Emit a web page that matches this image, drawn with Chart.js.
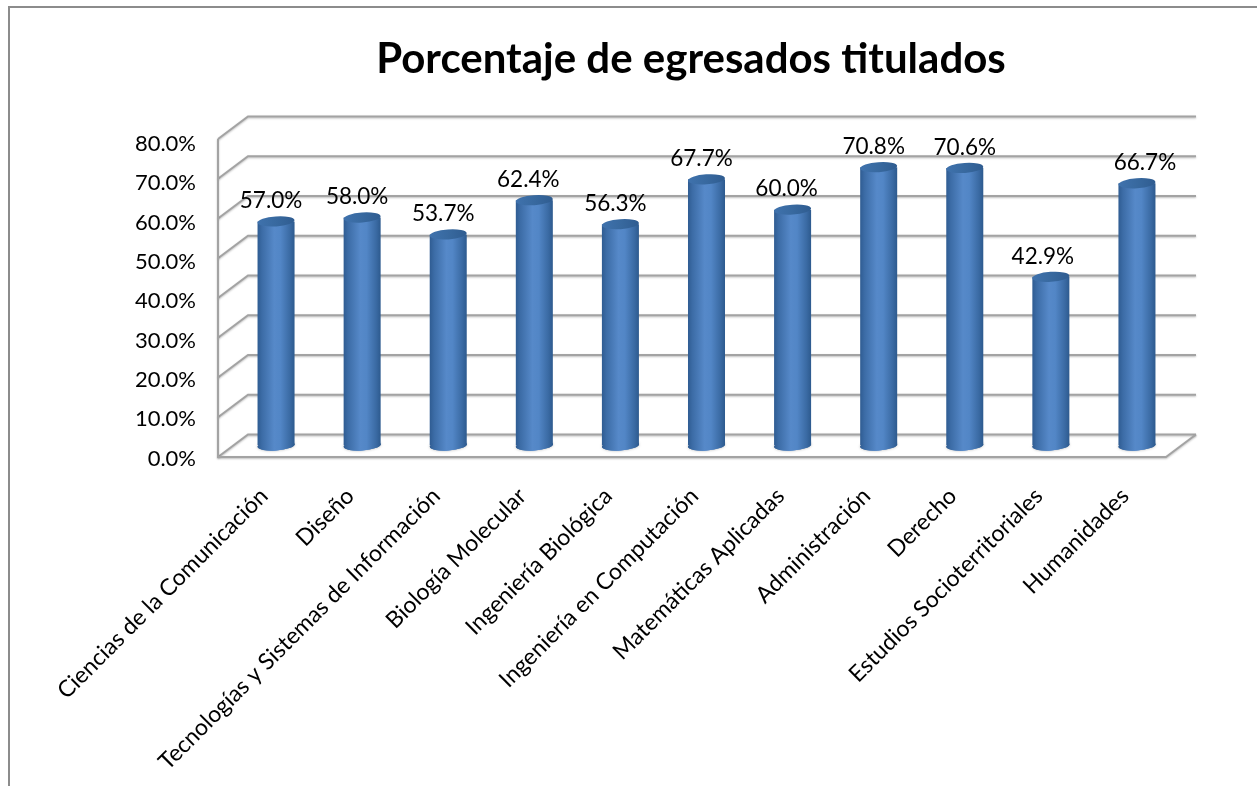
<!DOCTYPE html>
<html><head><meta charset="utf-8">
<style>html,body{margin:0;padding:0;background:#fff}#w{width:1257px;height:786px;position:relative}</style>
<script src="https://cdn.jsdelivr.net/npm/chart.js@4"></script></head>
<body><div id="w"><canvas id="c" width="1257" height="786"></canvas></div>
<script>
const chartTitle = 'Porcentaje de egresados titulados';
const categories = ['Ciencias de la Comunicación','Diseño','Tecnologías y Sistemas de Información','Biología Molecular','Ingeniería Biológica','Ingeniería en Computación','Matemáticas Aplicadas','Administración','Derecho','Estudios Socioterritoriales','Humanidades'];
const egresadosTitulados = [57.0,58.0,53.7,62.4,56.3,67.7,60.0,70.8,70.6,42.9,66.7];
const labelNudgeX = [-5,-5,-5,-6,-5,-5,-6,-5,0,-8,8];
const FONT = 'Lato, "Noto Sans", sans-serif';
const fmt = v => v.toFixed(1) + '%';

function sideGradient(ctx, left, right, stops){
  const g = ctx.createLinearGradient(left,0,right,0);
  stops.forEach(s=>g.addColorStop(s[0],s[1]));
  return g;
}
const bodyStops = [[0,'#2f5c92'],[0.12,'#3c6ca6'],[0.45,'#5689c9'],[0.62,'#5286c6'],[0.88,'#3a6aa3'],[1,'#2d5a8e']];
const capStops = [[0,'#3f72ad'],[0.5,'#38699f'],[1,'#2f5c90']];

const depthPlugin = {
  id:'depth',
  afterLayout(chart){
    const t = chart.titleBlock;
    if(t){ t.left = 125; t.right = 1257; }
  },
  beforeDraw(chart){
    const c = chart.ctx; c.save();
    c.fillStyle='#fff'; c.fillRect(0,0,chart.width,chart.height);
    c.strokeStyle='#8c8c8c'; c.lineWidth=2;
    c.beginPath(); c.moveTo(9,786); c.lineTo(9,7); c.lineTo(1257,7); c.stroke();
    c.restore();
  },
  beforeDatasetsDraw(chart){
    const c = chart.ctx, y = chart.scales.y;
    const y0 = y.getPixelForValue(0), yT = y.getPixelForValue(80);
    const frontL=218, backL=248, backR=1196, frontR=1166;
    const front = p => 457 - (y0-p)/(y0-yT)*318;
    const back = p => 434.5 - (y0-p)/(y0-yT)*318;
    c.save();
    c.strokeStyle='#a3a3a3'; c.lineWidth=2;
    c.shadowColor='rgba(0,0,0,0.25)'; c.shadowBlur=2; c.shadowOffsetY=1;
    y.ticks.forEach(t=>{
      const p = y.getPixelForValue(t.value);
      c.beginPath(); c.moveTo(frontL,front(p)); c.lineTo(backL,back(p)); c.lineTo(backR,back(p)); c.stroke();
    });
    c.beginPath();
    c.moveTo(frontL,front(yT)); c.lineTo(frontL,457); c.lineTo(frontR,457); c.lineTo(backR,434.5);
    c.stroke();
    c.restore();
    chart.getDatasetMeta(0).data.forEach(b=>{
      const w = b.width/2;
      c.save();
      c.shadowColor='rgba(0,0,0,0.3)'; c.shadowBlur=3;
      c.fillStyle=sideGradient(c,b.x-w,b.x+w,bodyStops);
      c.beginPath(); c.ellipse(b.x,b.base,w,5,-0.07,0,Math.PI*2); c.fill();
      c.restore();
    });
  },
  afterDatasetsDraw(chart){
    const c = chart.ctx;
    chart.getDatasetMeta(0).data.forEach(b=>{
      const w = b.width/2;
      c.save();
      c.fillStyle=sideGradient(c,b.x-w,b.x+w,bodyStops);
      c.beginPath(); c.ellipse(b.x,b.base,w,5,-0.07,0,Math.PI*2); c.fill();
      c.fillStyle=sideGradient(c,b.x-w,b.x+w,capStops);
      c.beginPath(); c.ellipse(b.x,b.y,w,5,-0.07,0,Math.PI*2); c.fill();
      c.restore();
    });
  },
  afterDraw(chart){
    const c = chart.ctx;
    c.save();
    c.fillStyle='#000'; c.font='22.5px '+FONT; c.textAlign='center'; c.textBaseline='middle';
    chart.getDatasetMeta(0).data.forEach((b,i)=>{
      c.fillText(fmt(egresadosTitulados[i]), b.x+labelNudgeX[i], b.y-20.5);
    });
    c.restore();
  }
};

new Chart(document.getElementById('c'),{
  type:'bar',
  data:{labels:categories,datasets:[{
    label:'Porcentaje de egresados titulados',
    data:egresadosTitulados,
    barPercentage:0.43,categoryPercentage:1,
    backgroundColor(ctx){
      const s = ctx.chart.scales.x;
      const x = s ? s.getPixelForValue(ctx.dataIndex) : NaN, w = 18.5;
      if(!isFinite(x)) return '#4f81bd';
      return sideGradient(ctx.chart.ctx,x-w,x+w,bodyStops);
    }
  }]},
  options:{
    responsive:false,animation:false,
    layout:{padding:{left:120,right:77,top:0,bottom:0}},
    plugins:{
      legend:{display:false},tooltip:{enabled:false},
      title:{display:true,text:chartTitle,color:'#000',font:{family:FONT,size:42,weight:'bold',lineHeight:1.2},padding:{top:33.8,bottom:46.8}}
    },
    scales:{
      x:{
        grid:{display:false},border:{display:false},
        ticks:{color:'#000',font:{family:FONT,size:23},autoSkip:false,minRotation:45,maxRotation:45,padding:29,labelOffset:-12},
        afterFit(s){s.height=340.5;s.paddingLeft=0;s.paddingRight=0;}
      },
      y:{
        min:0,max:80,
        grid:{display:false},border:{display:false},
        ticks:{stepSize:10,color:'#000',font:{family:FONT,size:22},padding:29,labelOffset:13,callback:v=>fmt(v)},
        afterFit(s){s.width=113;s.paddingTop=0;s.paddingBottom=0;}
      }
    }
  },
  plugins:[depthPlugin]
});
</script></body></html>
